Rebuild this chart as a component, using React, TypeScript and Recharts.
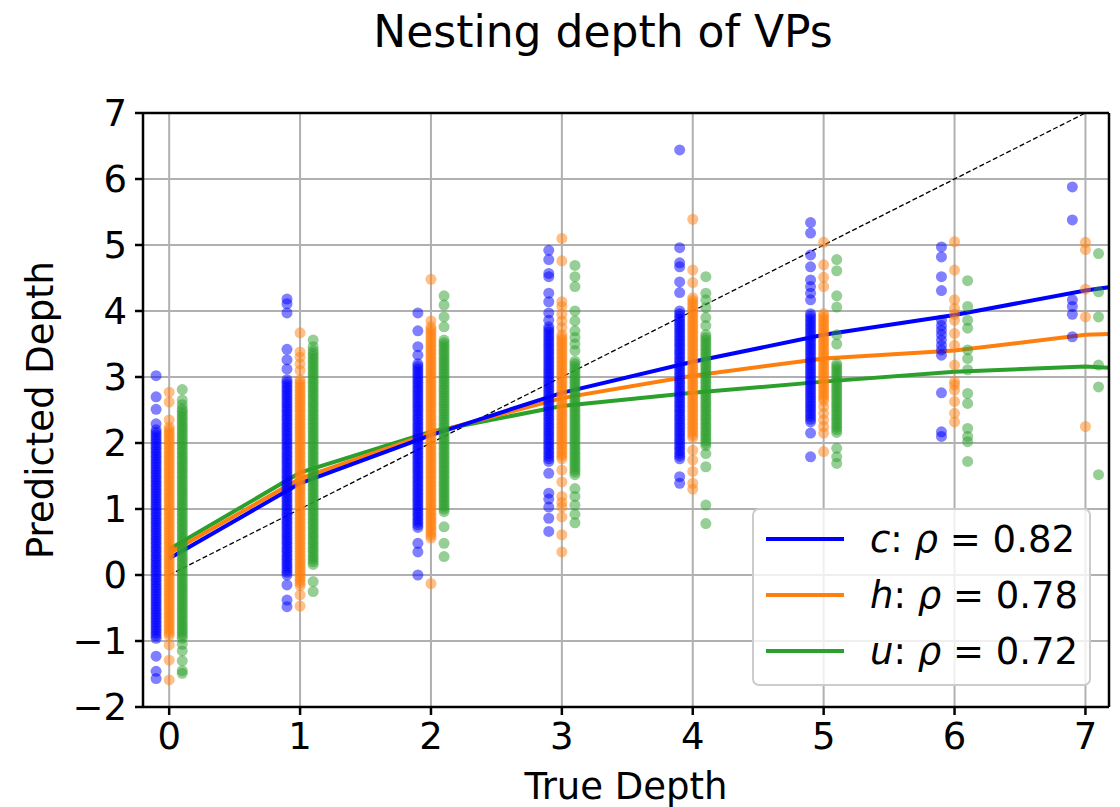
import { ComposedChart, Scatter, Line, XAxis, YAxis, CartesianGrid, ReferenceLine, Legend, Label } from "recharts";

const FONT = "DejaVu Sans";

const depthTicks = [0, 1, 2, 3, 4, 5, 6, 7];
const predTicks = [-2, -1, 0, 1, 2, 3, 4, 5, 6, 7];

// predicted depth of each VP, grouped by true depth (0..7)
const cPred: number[][] = [
  [3.02, 2.7, 2.51, 2.29, 2.2, 2.16, 2.12, 2.08, 2.04, 2, 1.96, 1.92, 1.88, 1.84, 1.8, 1.76, 1.72, 1.68, 1.64, 1.6, 1.56, 1.52, 1.48, 1.44, 1.4, 1.36, 1.32, 1.28, 1.24, 1.2, 1.16, 1.12, 1.08, 1.04, 1, 0.96, 0.92, 0.88, 0.84, 0.8, 0.76, 0.72, 0.68, 0.64, 0.6, 0.56, 0.52, 0.48, 0.44, 0.4, 0.36, 0.32, 0.28, 0.24, 0.2, 0.16, 0.12, 0.08, 0.04, 0, -0.04, -0.08, -0.12, -0.16, -0.2, -0.24, -0.28, -0.32, -0.36, -0.4, -0.44, -0.48, -0.52, -0.56, -0.6, -0.64, -0.68, -0.72, -0.76, -0.8, -0.84, -0.88, -0.92, -0.96, -1.23, -1.46, -1.57],
  [4.18, 4.11, 3.97, 3.42, 3.26, 3.12, 2.96, 2.92, 2.88, 2.84, 2.8, 2.76, 2.72, 2.68, 2.64, 2.6, 2.56, 2.52, 2.48, 2.44, 2.4, 2.36, 2.32, 2.28, 2.24, 2.2, 2.16, 2.12, 2.08, 2.04, 2, 1.96, 1.92, 1.88, 1.84, 1.8, 1.76, 1.72, 1.68, 1.64, 1.6, 1.56, 1.52, 1.48, 1.44, 1.4, 1.36, 1.32, 1.28, 1.24, 1.2, 1.16, 1.12, 1.08, 1.04, 1, 0.96, 0.92, 0.88, 0.84, 0.8, 0.76, 0.72, 0.68, 0.64, 0.6, 0.56, 0.52, 0.48, 0.44, 0.4, 0.36, 0.32, 0.28, 0.24, 0.2, 0.16, 0.12, 0.08, 0.04, 0, -0.15, -0.38, -0.48],
  [3.97, 3.7, 3.46, 3.33, 3.2, 3.16, 3.12, 3.08, 3.04, 3, 2.96, 2.92, 2.88, 2.84, 2.8, 2.76, 2.72, 2.68, 2.64, 2.6, 2.56, 2.52, 2.48, 2.44, 2.4, 2.36, 2.32, 2.28, 2.24, 2.2, 2.16, 2.12, 2.08, 2.04, 2, 1.96, 1.92, 1.88, 1.84, 1.8, 1.76, 1.72, 1.68, 1.64, 1.6, 1.56, 1.52, 1.48, 1.44, 1.4, 1.36, 1.32, 1.28, 1.24, 1.2, 1.16, 1.12, 1.08, 1.04, 1, 0.96, 0.92, 0.88, 0.84, 0.8, 0.76, 0.72, 0.48, 0.35, 0],
  [4.92, 4.78, 4.57, 4.52, 4.27, 4.14, 3.97, 3.86, 3.76, 3.72, 3.68, 3.64, 3.6, 3.56, 3.52, 3.48, 3.44, 3.4, 3.36, 3.32, 3.28, 3.24, 3.2, 3.16, 3.12, 3.08, 3.04, 3, 2.96, 2.92, 2.88, 2.84, 2.8, 2.76, 2.72, 2.68, 2.64, 2.6, 2.56, 2.52, 2.48, 2.44, 2.4, 2.36, 2.32, 2.28, 2.24, 2.2, 2.16, 2.12, 2.08, 2.04, 2, 1.96, 1.92, 1.88, 1.84, 1.8, 1.76, 1.72, 1.54, 1.24, 1.15, 1.03, 0.86, 0.66],
  [6.44, 4.96, 4.73, 4.67, 4.44, 4.28, 4, 3.96, 3.92, 3.88, 3.84, 3.8, 3.76, 3.72, 3.68, 3.64, 3.6, 3.56, 3.52, 3.48, 3.44, 3.4, 3.36, 3.32, 3.28, 3.24, 3.2, 3.16, 3.12, 3.08, 3.04, 3, 2.96, 2.92, 2.88, 2.84, 2.8, 2.76, 2.72, 2.68, 2.64, 2.6, 2.56, 2.52, 2.48, 2.44, 2.4, 2.36, 2.32, 2.28, 2.24, 2.2, 2.16, 2.12, 2.08, 2.04, 2, 1.96, 1.92, 1.88, 1.84, 1.8, 1.76, 1.49, 1.39],
  [5.34, 5.18, 4.85, 4.67, 4.47, 4.37, 4.27, 4.17, 3.96, 3.92, 3.88, 3.84, 3.8, 3.76, 3.72, 3.68, 3.64, 3.6, 3.56, 3.52, 3.48, 3.44, 3.4, 3.36, 3.32, 3.28, 3.24, 3.2, 3.16, 3.12, 3.08, 3.04, 3, 2.96, 2.92, 2.88, 2.84, 2.8, 2.76, 2.72, 2.68, 2.64, 2.6, 2.56, 2.52, 2.48, 2.44, 2.4, 2.36, 2.32, 2.15, 1.79],
  [4.97, 4.82, 4.52, 4.31, 3.86, 3.78, 3.71, 3.64, 3.56, 3.48, 3.41, 3.33, 2.76, 2.17, 2.1],
  [5.88, 5.38, 4.17, 4.07, 3.95, 3.61],
];

const hPred: number[][] = [
  [2.77, 2.62, 2.35, 2.24, 2.2, 2.16, 2.12, 2.08, 2.04, 2, 1.96, 1.92, 1.88, 1.84, 1.8, 1.76, 1.72, 1.68, 1.64, 1.6, 1.56, 1.52, 1.48, 1.44, 1.4, 1.36, 1.32, 1.28, 1.24, 1.2, 1.16, 1.12, 1.08, 1.04, 1, 0.96, 0.92, 0.88, 0.84, 0.8, 0.76, 0.72, 0.68, 0.64, 0.6, 0.56, 0.52, 0.48, 0.44, 0.4, 0.36, 0.32, 0.28, 0.24, 0.2, 0.16, 0.12, 0.08, 0.04, 0, -0.04, -0.08, -0.12, -0.16, -0.2, -0.24, -0.28, -0.32, -0.36, -0.4, -0.44, -0.48, -0.52, -0.56, -0.6, -0.64, -0.68, -0.72, -0.76, -0.8, -0.84, -0.88, -0.92, -1.06, -1.29, -1.59],
  [3.67, 3.38, 3.3, 3.2, 3.1, 2.96, 2.92, 2.88, 2.84, 2.8, 2.76, 2.72, 2.68, 2.64, 2.6, 2.56, 2.52, 2.48, 2.44, 2.4, 2.36, 2.32, 2.28, 2.24, 2.2, 2.16, 2.12, 2.08, 2.04, 2, 1.96, 1.92, 1.88, 1.84, 1.8, 1.76, 1.72, 1.68, 1.64, 1.6, 1.56, 1.52, 1.48, 1.44, 1.4, 1.36, 1.32, 1.28, 1.24, 1.2, 1.16, 1.12, 1.08, 1.04, 1, 0.96, 0.92, 0.88, 0.84, 0.8, 0.76, 0.72, 0.68, 0.64, 0.6, 0.56, 0.52, 0.48, 0.44, 0.4, 0.36, 0.32, 0.28, 0.24, 0.2, 0.16, 0.12, 0.08, 0.04, 0, -0.04, -0.08, -0.12, -0.16, -0.3, -0.47],
  [4.48, 3.85, 3.76, 3.72, 3.68, 3.64, 3.6, 3.56, 3.52, 3.48, 3.44, 3.4, 3.36, 3.32, 3.28, 3.24, 3.2, 3.16, 3.12, 3.08, 3.04, 3, 2.96, 2.92, 2.88, 2.84, 2.8, 2.76, 2.72, 2.68, 2.64, 2.6, 2.56, 2.52, 2.48, 2.44, 2.4, 2.36, 2.32, 2.28, 2.24, 2.2, 2.16, 2.12, 2.08, 2.04, 2, 1.96, 1.92, 1.88, 1.84, 1.8, 1.76, 1.72, 1.68, 1.64, 1.6, 1.56, 1.52, 1.48, 1.44, 1.4, 1.36, 1.32, 1.28, 1.24, 1.2, 1.16, 1.12, 1.08, 1.04, 1, 0.96, 0.92, 0.88, 0.84, 0.8, 0.76, 0.72, 0.68, 0.64, 0.6, 0.56, -0.13],
  [5.1, 4.76, 4.14, 4.07, 3.95, 3.85, 3.75, 3.64, 3.6, 3.56, 3.52, 3.48, 3.44, 3.4, 3.36, 3.32, 3.28, 3.24, 3.2, 3.16, 3.12, 3.08, 3.04, 3, 2.96, 2.92, 2.88, 2.84, 2.8, 2.76, 2.72, 2.68, 2.64, 2.6, 2.56, 2.52, 2.48, 2.44, 2.4, 2.36, 2.32, 2.28, 2.24, 2.2, 2.16, 2.12, 2.08, 2.04, 2, 1.96, 1.92, 1.88, 1.84, 1.8, 1.76, 1.59, 1.41, 1.19, 1.1, 1.03, 0.88, 0.61, 0.35],
  [5.39, 4.62, 4.43, 4.2, 4.16, 4.12, 4.08, 4.04, 4, 3.96, 3.92, 3.88, 3.84, 3.8, 3.76, 3.72, 3.68, 3.64, 3.6, 3.56, 3.52, 3.48, 3.44, 3.4, 3.36, 3.32, 3.28, 3.24, 3.2, 3.16, 3.12, 3.08, 3.04, 3, 2.96, 2.92, 2.88, 2.84, 2.8, 2.76, 2.72, 2.68, 2.64, 2.6, 2.56, 2.52, 2.48, 2.44, 2.4, 2.36, 2.32, 2.28, 2.24, 2.2, 2.16, 2.12, 2.08, 1.89, 1.74, 1.57, 1.39, 1.3],
  [5.04, 4.7, 4.51, 4.37, 3.96, 3.92, 3.88, 3.84, 3.8, 3.76, 3.72, 3.68, 3.64, 3.6, 3.56, 3.52, 3.48, 3.44, 3.4, 3.36, 3.32, 3.28, 3.24, 3.2, 3.16, 3.12, 3.08, 3.04, 3, 2.96, 2.92, 2.88, 2.84, 2.8, 2.76, 2.72, 2.68, 2.64, 2.55, 2.45, 2.35, 2.25, 2.15, 1.87],
  [5.05, 4.62, 4.17, 4.04, 3.95, 3.86, 3.66, 3.48, 3.18, 2.93, 2.88, 2.8, 2.63, 2.45, 2.32],
  [5.04, 4.93, 4.33, 3.91, 2.25],
];

const uPred: number[][] = [
  [2.81, 2.65, 2.58, 2.52, 2.48, 2.44, 2.4, 2.36, 2.32, 2.28, 2.24, 2.2, 2.16, 2.12, 2.08, 2.04, 2, 1.96, 1.92, 1.88, 1.84, 1.8, 1.76, 1.72, 1.68, 1.64, 1.6, 1.56, 1.52, 1.48, 1.44, 1.4, 1.36, 1.32, 1.28, 1.24, 1.2, 1.16, 1.12, 1.08, 1.04, 1, 0.96, 0.92, 0.88, 0.84, 0.8, 0.76, 0.72, 0.68, 0.64, 0.6, 0.56, 0.52, 0.48, 0.44, 0.4, 0.36, 0.32, 0.28, 0.24, 0.2, 0.16, 0.12, 0.08, 0.04, 0, -0.04, -0.08, -0.12, -0.16, -0.2, -0.24, -0.28, -0.32, -0.36, -0.4, -0.44, -0.48, -0.52, -0.56, -0.6, -0.64, -0.68, -0.72, -0.76, -0.8, -0.84, -0.88, -0.92, -0.96, -1.05, -1.15, -1.3, -1.45, -1.49],
  [3.56, 3.46, 3.4, 3.36, 3.32, 3.28, 3.24, 3.2, 3.16, 3.12, 3.08, 3.04, 3, 2.96, 2.92, 2.88, 2.84, 2.8, 2.76, 2.72, 2.68, 2.64, 2.6, 2.56, 2.52, 2.48, 2.44, 2.4, 2.36, 2.32, 2.28, 2.24, 2.2, 2.16, 2.12, 2.08, 2.04, 2, 1.96, 1.92, 1.88, 1.84, 1.8, 1.76, 1.72, 1.68, 1.64, 1.6, 1.56, 1.52, 1.48, 1.44, 1.4, 1.36, 1.32, 1.28, 1.24, 1.2, 1.16, 1.12, 1.08, 1.04, 1, 0.96, 0.92, 0.88, 0.84, 0.8, 0.76, 0.72, 0.68, 0.64, 0.6, 0.56, 0.52, 0.48, 0.44, 0.4, 0.36, 0.32, 0.28, 0.24, 0.2, 0.16, -0.1, -0.25],
  [4.23, 4.09, 3.91, 3.76, 3.56, 3.52, 3.48, 3.44, 3.4, 3.36, 3.32, 3.28, 3.24, 3.2, 3.16, 3.12, 3.08, 3.04, 3, 2.96, 2.92, 2.88, 2.84, 2.8, 2.76, 2.72, 2.68, 2.64, 2.6, 2.56, 2.52, 2.48, 2.44, 2.4, 2.36, 2.32, 2.28, 2.24, 2.2, 2.16, 2.12, 2.08, 2.04, 2, 1.96, 1.92, 1.88, 1.84, 1.8, 1.76, 1.72, 1.68, 1.64, 1.6, 1.56, 1.52, 1.48, 1.44, 1.4, 1.36, 1.32, 1.28, 1.24, 1.2, 1.16, 1.12, 1.08, 1.04, 1, 0.96, 0.73, 0.48, 0.28],
  [4.69, 4.52, 4.37, 4, 3.85, 3.7, 3.6, 3.5, 3.4, 3.24, 3.2, 3.16, 3.12, 3.08, 3.04, 3, 2.96, 2.92, 2.88, 2.84, 2.8, 2.76, 2.72, 2.68, 2.64, 2.6, 2.56, 2.52, 2.48, 2.44, 2.4, 2.36, 2.32, 2.28, 2.24, 2.2, 2.16, 2.12, 2.08, 2.04, 2, 1.96, 1.92, 1.88, 1.84, 1.8, 1.76, 1.72, 1.68, 1.64, 1.6, 1.56, 1.52, 1.31, 1.19, 1.06, 0.92, 0.79],
  [4.52, 4.27, 4.17, 4.05, 3.9, 3.78, 3.64, 3.6, 3.56, 3.52, 3.48, 3.44, 3.4, 3.36, 3.32, 3.28, 3.24, 3.2, 3.16, 3.12, 3.08, 3.04, 3, 2.96, 2.92, 2.88, 2.84, 2.8, 2.76, 2.72, 2.68, 2.64, 2.6, 2.56, 2.52, 2.48, 2.44, 2.4, 2.36, 2.32, 2.28, 2.24, 2.2, 2.16, 2.12, 2.08, 2.04, 2, 1.96, 1.84, 1.64, 1.06, 0.78],
  [4.78, 4.61, 4.23, 4.06, 3.64, 3.5, 3.2, 3.16, 3.12, 3.08, 3.04, 3, 2.96, 2.92, 2.88, 2.84, 2.8, 2.76, 2.72, 2.68, 2.64, 2.6, 2.56, 2.52, 2.48, 2.44, 2.4, 2.36, 2.32, 2.28, 2.24, 2.2, 2.16, 1.92, 1.79, 1.69],
  [4.46, 4.07, 3.86, 3.74, 3.41, 3.28, 3.11, 2.75, 2.6, 2.22, 2.1, 2.02, 1.72],
  [4.87, 4.29, 3.91, 3.18, 2.85, 1.52],
];

// smoothed trend of each model, sampled along the true depth axis
const curveX = [0, 1, 2, 3, 4, 5, 6, 7, 7.18];
const cCurve = [0.25, 1.39, 2.12, 2.76, 3.23, 3.64, 3.94, 4.31, 4.36];
const hCurve = [0.33, 1.46, 2.15, 2.68, 3.02, 3.28, 3.4, 3.64, 3.65];
const uCurve = [0.39, 1.55, 2.17, 2.56, 2.76, 2.93, 3.08, 3.16, 3.14];

const series = [
  { name: "c", rho: "0.82", color: "#0000ff", offset: -0.1, pred: cPred, curve: cCurve },
  { name: "h", rho: "0.78", color: "#ff7f0e", offset: 0, pred: hPred, curve: hCurve },
  { name: "u", rho: "0.72", color: "#2ca02c", offset: 0.1, pred: uPred, curve: uCurve },
];

const X_MIN = -0.2;
const X_MAX = 7.18;

const toPoints = (pred: number[][], offset: number) =>
  pred.flatMap((vals, i) => vals.map((y) => ({ x: depthTicks[i] + offset, y })));

const toCurve = (vals: number[]) => curveX.map((x, i) => ({ x, y: vals[i] }));

const fmt = (v: number) => (v < 0 ? `\u2212${-v}` : `${v}`);

const dot = (color: string) => (p: any) => <circle cx={p.cx} cy={p.cy} r={5.5} fill={color} fillOpacity={0.5} />;

function LegendBox() {
  return (
    <svg width={340} height={180} style={{ display: "block" }}>
      <rect x={1} y={1} width={337} height={176} rx={6} fill="#fff" fillOpacity={0.8} stroke="#cccccc" strokeWidth={2} />
      {series.map((s, i) => (
        <g key={s.name}>
          <line x1={14} x2={92} y1={31 + i * 56} y2={31 + i * 56} stroke={s.color} strokeWidth={4} />
          <text x={118} y={31 + i * 56 + 13} fontSize={37} fontFamily={FONT} fill="#000">
            <tspan fontStyle="italic">{s.name}</tspan>: <tspan fontStyle="italic">ρ</tspan> = {s.rho}
          </text>
        </g>
      ))}
    </svg>
  );
}

export default function App() {
  const tick = { fill: "#000", fontSize: 37, fontFamily: FONT };
  const spine = { stroke: "#000", strokeWidth: 2.5 };
  return (
    <div style={{ position: "absolute", left: 0, top: 0, width: 1120, height: 807, background: "#fff" }}>
      <svg width={1120} height={70} style={{ position: "absolute", left: 0, top: 0 }}>
        <text x={603} y={47} textAnchor="middle" fontSize={44} fontFamily={FONT} fill="#000">
          Nesting depth of VPs
        </text>
      </svg>
      <ComposedChart width={1120} height={807} margin={{ top: 113, right: 11, bottom: 0, left: 0 }}>
        <XAxis
          type="number"
          dataKey="x"
          domain={[X_MIN, X_MAX]}
          ticks={depthTicks}
          interval={0}
          allowDataOverflow
          height={100}
          tick={tick}
          tickSize={8}
          tickMargin={8}
          tickLine={spine}
          axisLine={spine}
        >
          <Label
            content={() => (
              <text x={626} y={799} textAnchor="middle" fontSize={37} fontFamily={FONT} fill="#000">
                True Depth
              </text>
            )}
          />
        </XAxis>
        <YAxis
          type="number"
          dataKey="y"
          domain={[-2, 7]}
          ticks={predTicks}
          interval={0}
          allowDataOverflow
          width={143}
          tick={tick}
          tickFormatter={fmt}
          tickSize={8}
          tickMargin={8}
          tickLine={spine}
          axisLine={spine}
        >
          <Label
            content={() => (
              <text x={53} y={410} transform="rotate(-90 53 410)" textAnchor="middle" fontSize={37} fontFamily={FONT} fill="#000">
                Predicted Depth
              </text>
            )}
          />
        </YAxis>
        {series.map((s) => (
          <Scatter
            key={`pts-${s.name}`}
            data={toPoints(s.pred, s.offset)}
            shape={dot(s.color)}
            legendType="none"
            isAnimationActive={false}
          />
        ))}
        <CartesianGrid stroke="#b0b0b0" strokeWidth={2} />
        <ReferenceLine
          segment={[{ x: 0, y: 0 }, { x: 7, y: 7 }]}
          stroke="#000"
          strokeWidth={1.3}
          strokeDasharray="5 2.5"
        />
        {[...series].reverse().map((s) => (
          <Line
            key={`curve-${s.name}`}
            data={toCurve(s.curve)}
            dataKey="y"
            type="linear"
            stroke={s.color}
            strokeWidth={4}
            dot={false}
            activeDot={false}
            legendType="none"
            isAnimationActive={false}
          />
        ))}
        <ReferenceLine y={7} stroke="#000" strokeWidth={2.5} />
        <ReferenceLine x={X_MAX} stroke="#000" strokeWidth={2.5} />
        <Legend
          layout="vertical"
          align="center"
          verticalAlign="middle"
          content={() => <LegendBox />}
          wrapperStyle={{ position: "absolute", left: 752, top: 508, width: 340, height: 180 }}
        />
      </ComposedChart>
    </div>
  );
}
